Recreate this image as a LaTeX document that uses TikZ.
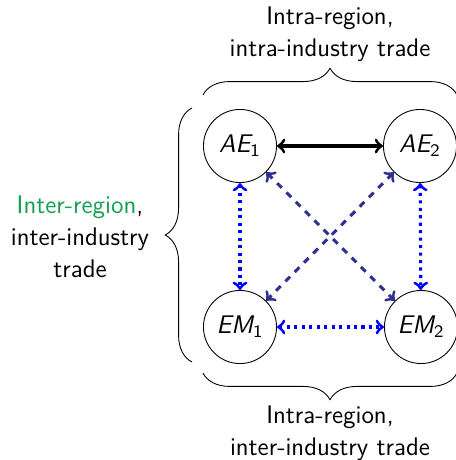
\documentclass[tikz,border=0pt]{standalone}
\usetikzlibrary{decorations.pathreplacing}
\definecolor{crossblue}{RGB}{46,49,146}
\definecolor{regiongreen}{RGB}{20,160,80}
\begin{document}
\begin{tikzpicture}[x=0.016cm, y=0.016cm, line join=round,
  font=\sffamily\fontsize{11.6}{14.5}\selectfont]
  \useasboundingbox (0,0) rectangle (456,460);

  % Economies
  \tikzset{econ/.style={draw, circle, minimum size=1.17cm, inner sep=0pt},
    trade/.style={<->, line width=1.4pt}}
  \node[econ] (AE1) at (240,314) {$\textit{AE}_{\mathsf{1}}$};
  \node[econ] (AE2) at (420,314) {$\textit{AE}_{\mathsf{2}}$};
  \node[econ] (EM1) at (240,133) {$\textit{EM}_{\mathsf{1}}$};
  \node[econ] (EM2) at (421,133) {$\textit{EM}_{\mathsf{2}}$};

  % Trade links
  \draw[trade] (AE1) -- (AE2);
  \draw[trade, dotted, blue] (EM1) -- (EM2);
  \draw[trade, dotted, blue] (AE1) -- (EM1);
  \draw[trade, dotted, blue] (AE2) -- (EM2);
  \draw[trade, dashed, crossblue] (AE1) -- (EM2);
  \draw[trade, dashed, crossblue] (AE2) -- (EM1);

  % Braces
  \tikzset{grp/.style={decorate, decoration={brace, amplitude=0.43cm}}}
  \draw[grp] (203,365) -- (457,365);
  \draw[grp] (457,87) -- (203,87);
  \draw[grp] (192,98) -- (192,352);

  % Labels
  \node[align=center] (top) at (330,426) {Intra-region,\\intra-industry trade};
  \node[align=center] (bot) at (330,27) {Intra-region,\\inter-industry trade};
  \node[align=center] (left) at (80,223)
    {\textcolor{regiongreen}{Inter-region},\\inter-industry\\trade};
\end{tikzpicture}
\end{document}
